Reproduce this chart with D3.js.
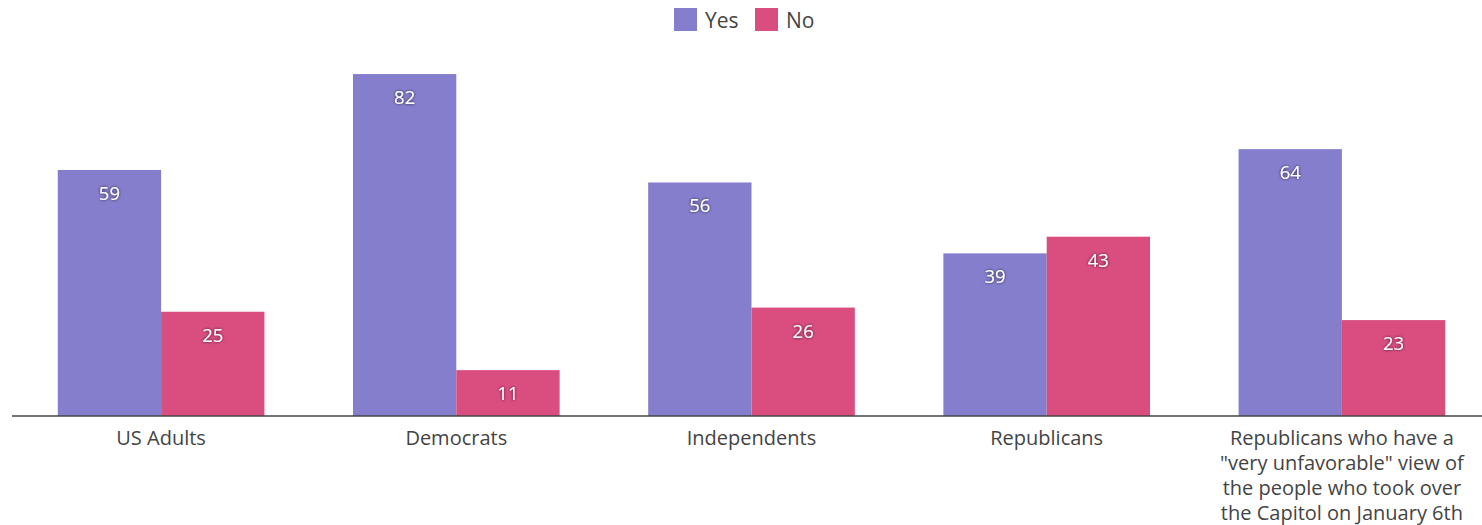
<!DOCTYPE html>
<html>
<head>
<meta charset="utf-8">
<script src="https://cdn.jsdelivr.net/npm/d3@7"></script>
<style>
  html, body { margin: 0; padding: 0; background: #fff; }
  svg { display: block; font-family: "Open Sans", Lato, sans-serif; }
</style>
</head>
<body>
<svg id="chart" width="1482" height="525"></svg>
<script>
// Survey groups and their share answering Yes / No
const categories = [
  ["US Adults"],
  ["Democrats"],
  ["Independents"],
  ["Republicans"],
  ["Republicans who have a", "\"very unfavorable\" view of", "the people who took over", "the Capitol on January 6th"]
];
const seriesNames = ["Yes", "No"];
const yesValues = [59, 82, 56, 39, 64];
const noValues = [25, 11, 26, 43, 23];
const colors = ["#857ecd", "#d94e7f"];

const svg = d3.select("#chart");

// drop shadow for the value labels
const defs = svg.append("defs");
const f = defs.append("filter").attr("id", "lblShadow")
  .attr("x", "-50%").attr("y", "-50%").attr("width", "200%").attr("height", "200%");
f.append("feDropShadow").attr("dx", 0).attr("dy", 0).attr("stdDeviation", 1.6)
  .attr("flood-color", "#000").attr("flood-opacity", 0.75);

const baseY = 416;
const x0 = d3.scaleBand().domain(d3.range(categories.length))
  .range([13.5, 1489.5]).paddingInner(0.3).paddingOuter(0.15);
const x1 = d3.scaleBand().domain(seriesNames).range([0, x0.bandwidth()]);
const y = d3.scaleLinear().domain([0, 100]).range([baseY, -1]);

const rows = categories.map((c, i) => ({ i, vals: [yesValues[i], noValues[i]] }));

const groups = svg.append("g").selectAll("g").data(rows).join("g")
  .attr("transform", d => `translate(${x0(d.i)},0)`);

groups.selectAll("rect").data(d => d.vals.map((v, k) => ({ v, k })))
  .join("rect")
  .attr("x", d => x1(seriesNames[d.k]))
  .attr("width", x1.bandwidth())
  .attr("y", d => y(d.v))
  .attr("height", d => baseY - y(d.v))
  .attr("fill", d => colors[d.k]);

groups.selectAll("text.val").data(d => d.vals.map((v, k) => ({ v, k })))
  .join("text")
  .attr("class", "val")
  .attr("x", d => x1(seriesNames[d.k]) + x1.bandwidth() / 2)
  .attr("y", d => y(d.v) + 30)
  .attr("text-anchor", "middle")
  .attr("font-size", 18.5)
  .attr("fill", "#fff")
  .attr("filter", "url(#lblShadow)")
  .text(d => d.v);

// baseline axis
const xAxis = d3.axisBottom(x0).tickSize(0).tickFormat("");
const ax = svg.append("g").attr("transform", `translate(0,${baseY})`).call(xAxis);
ax.select(".domain").attr("stroke", "#444").attr("stroke-width", 1.5)
  .attr("d", "M12,0H1482");

// category labels
const lbl = svg.append("g").selectAll("text").data(rows).join("text")
  .attr("x", d => x0(d.i) + x0.bandwidth() / 2)
  .attr("y", 444.5)
  .attr("text-anchor", "middle")
  .attr("font-size", 20)
  .attr("fill", "#444");
lbl.selectAll("tspan").data(d => categories[d.i]).join("tspan")
  .attr("x", function () { return d3.select(this.parentNode).attr("x"); })
  .attr("dy", (d, j) => j === 0 ? 0 : 25.2)
  .text(d => d);

// legend
const legend = svg.append("g");
const legendX = [674, 755];
seriesNames.forEach((name, k) => {
  legend.append("rect").attr("x", legendX[k]).attr("y", 8)
    .attr("width", 23).attr("height", 23).attr("fill", colors[k]);
  legend.append("text").attr("x", legendX[k] + 31).attr("y", 27.5)
    .attr("font-size", 21).attr("fill", "#444").text(name);
});
</script>
</body>
</html>
